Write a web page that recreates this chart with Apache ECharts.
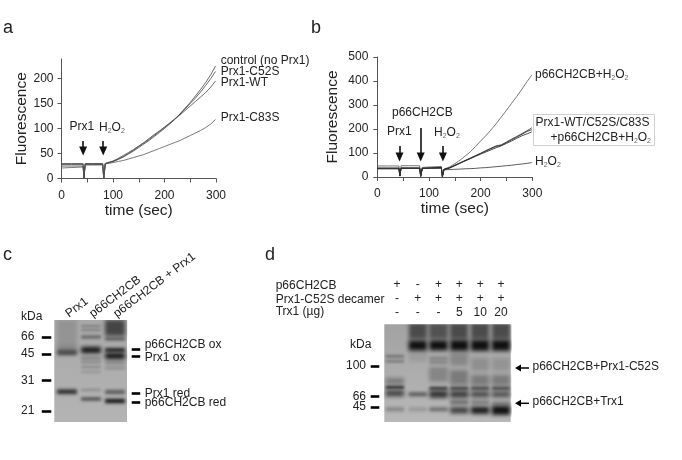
<!DOCTYPE html>
<html>
<head>
<meta charset="utf-8">
<title>Fluorescence and gels</title>
<script src="https://cdn.jsdelivr.net/npm/echarts@6/dist/echarts.min.js"></script>
<style>
html, body { margin: 0; padding: 0; background: #fff; }
#main { width: 682px; height: 460px; }
</style>
</head>
<body>
<div id="main"></div>
<script>
// panel a: fluorescence vs time
var timeA = [0, 20, 42, 43.5, 46, 60, 80, 82, 85, 90, 100, 110, 120, 130, 140, 150, 160, 170, 180, 190, 200, 210, 220, 230, 240, 250, 260, 270, 280, 290, 299];
var controlA = [30, 30, 30, 1, 30, 30, 30, 1, 30, 31, 34, 38, 43, 49, 55, 62, 69, 76, 84, 92, 100, 109, 118, 129, 141, 152, 165, 178, 192, 208, 225];
var c52sA = [28, 28, 28, 1, 29, 29, 29, 1, 30, 31, 34, 39, 44, 50, 57, 64, 71, 78, 86, 94, 102, 110, 119, 129, 139, 150, 161, 173, 186, 200, 214];
var wtA = [25, 25, 25, 1, 28, 28, 28, 1, 30, 32, 35, 40, 46, 52, 58, 65, 72, 80, 88, 95, 103, 111, 119, 127, 136, 145, 154, 163, 172, 183, 195];
var c83sA = [21, 22, 23, 1, 27, 27, 27, 1, 29, 30, 32, 34, 36, 39, 42, 45, 48, 52, 56, 60, 64, 68, 72, 76, 81, 86, 91, 96, 102, 109, 118];

// panel b: fluorescence vs time
var timeB = [0, 20, 42, 43.5, 46, 60, 82, 84, 87, 105, 124, 126, 129, 140, 150, 160, 170, 180, 190, 200, 210, 220, 230, 240, 250, 260, 270, 280, 290, 299];
var p66B = [46, 46, 46, 4, 47, 47, 47, 3, 40, 42, 44, 2, 33, 42, 55, 70, 87, 105, 127, 150, 172, 196, 222, 250, 278, 307, 336, 366, 398, 425];
var wtB = [38, 38, 38, 4, 38, 38, 38, 3, 37, 38, 40, 2, 32, 39, 49, 59, 69, 79, 89, 99, 110, 120, 130, 134, 146, 158, 169, 181, 193, 205];
var c52sB = [36, 36, 36, 4, 37, 37, 37, 3, 36, 38, 39, 2, 31, 38, 48, 58, 68, 78, 88, 98, 108, 118, 127, 132, 143, 155, 166, 178, 190, 197];
var c83sB = [34, 34, 34, 4, 36, 36, 36, 3, 35, 37, 38, 2, 30, 37, 47, 57, 67, 76, 86, 95, 104, 113, 122, 130, 140, 150, 161, 172, 180, 188];
var h2o2B = [35, 35, 35, 4, 36, 36, 36, 3, 36, 36, 36, 2, 30, 31, 32, 33, 34, 35, 36, 38, 39, 41, 43, 45, 47, 49, 52, 54, 57, 60];

// gel c: [lane, migration, spread, intensity]
var lanesC = ['Prx1', 'p66CH2CB', 'p66CH2CB + Prx1'];
var markersC = [17, 34, 60.7, 91];
var markerLabelsC = ['66', '45', '31', '21'];
var bandTicksC = [29.3, 36, 73, 82.7];
var bandLabelPosC = [25, 37.5, 73.5, 83];
var bandLabelsC = ['p66CH2CB ox', 'Prx1 ox', 'Prx1 red', 'p66CH2CB red'];
var bandsC = [
  [1, 12, 24, 0.14], [1, 29, 7, 0.25], [1, 32.7, 4, 0.6], [1, 71.7, 3.5, 0.85],
  [2, 6, 1, 0.3], [2, 10, 1, 0.3], [2, 17, 2, 0.5], [2, 30, 5, 1],
  [2, 38, 1.5, 0.3], [2, 42, 1.5, 0.25], [2, 47, 1.5, 0.22], [2, 52, 1.5, 0.15],
  [2, 70, 1.5, 0.22], [2, 79, 2.2, 0.65],
  [3, 8, 15, 0.65], [3, 19, 2, 0.55], [3, 30, 3, 0.9], [3, 36, 5, 1],
  [3, 43, 2, 0.25], [3, 48, 2, 0.2], [3, 72, 3, 0.55], [3, 81, 3.2, 1]
];

// gel d: [lane, migration, spread, intensity]
var rowNamesD = ['p66CH2CB', 'Prx1-C52S decamer', 'Trx1 (µg)'];
var rowP66 = ['+', '-', '+', '+', '+', '+'];
var rowPrx = ['-', '+', '+', '+', '+', '+'];
var rowTrx = ['-', '-', '-', '5', '10', '20'];
var markersD = [41.7, 72, 82.7];
var markerLabelsD = ['100', '66', '45'];
var bandsD = [
  [0.9, 32, 1.5, 0.4], [0.9, 37, 1.5, 0.35], [0.9, 57, 6, 0.32], [0.9, 63, 1.5, 0.95], [0.9, 69, 5, 0.7], [0.9, 85, 3, 0.3],
  [2, 7, 15, 0.6], [2, 21, 9, 1], [2, 30, 14, 0.08], [2, 70, 3, 0.55], [2, 85, 3, 0.18],
  [3, 7, 15, 0.55], [3, 21, 9, 1], [3, 34, 2, 0.28], [3, 38, 2, 0.28], [3, 50, 14, 0.25], [3, 64, 2, 0.8], [3, 70, 6, 0.8], [3, 85, 3, 0.45],
  [4, 7, 15, 0.6], [4, 21, 10, 1], [4, 35, 12, 0.22], [4, 53, 14, 0.32], [4, 64, 2, 0.75], [4, 70, 6, 0.72], [4, 78, 3, 0.45], [4, 86, 5, 0.75],
  [5, 7, 15, 0.6], [5, 21, 10, 1], [5, 40, 12, 0.18], [5, 56, 10, 0.32], [5, 64, 2, 0.7], [5, 70, 5, 0.65], [5, 78, 3, 0.35], [5, 86, 6, 0.95],
  [6, 7, 15, 0.6], [6, 21, 10, 1], [6, 40, 12, 0.15], [6, 56, 10, 0.32], [6, 64, 2, 0.7], [6, 70, 5, 0.6], [6, 79, 3, 0.3], [6, 86, 8, 1]
];

var FONT = '"Liberation Sans", Arial, sans-serif';
var INK = '#222';
var AXIS = '#555';

function zip(t, v) {
  return t.map(function (x, i) { return [x, v[i]]; });
}

function curve(name, t, v, ax, color, extra) {
  var s = {
    name: name, type: 'line', xAxisIndex: ax, yAxisIndex: ax,
    data: zip(t, v), showSymbol: false, symbol: 'none', silent: true,
    lineStyle: { color: color, width: 0.8 }
  };
  if (extra) s.markLine = extra;
  return s;
}

function arrows(list) {
  return {
    silent: true, symbol: ['none', 'triangle'], symbolSize: [8, 9], animation: false,
    label: { show: false },
    lineStyle: { color: '#111', width: 1.6, type: 'solid' },
    data: list.map(function (a) {
      return [{ coord: [a[0], a[1]] }, { coord: [a[0], a[2]] }];
    })
  };
}

function xAxisPlot(grid) {
  return {
    gridIndex: grid, type: 'value', min: 0, max: 300, name: 'time (sec)',
    nameLocation: 'middle', nameGap: 24,
    nameTextStyle: { fontFamily: FONT, fontSize: 15.5, color: INK },
    splitLine: { show: false },
    axisLine: { lineStyle: { color: AXIS, width: 1 } },
    axisTick: { length: 4, lineStyle: { color: AXIS }, customValues: [0, 50, 100, 150, 200, 250, 300] },
    axisLabel: { fontFamily: FONT, fontSize: 12, color: INK, margin: 11, customValues: [0, 100, 200, 300] }
  };
}

function yAxisPlot(grid, max, ticks, gap, margin) {
  return {
    gridIndex: grid, type: 'value', min: 0, max: max, name: 'Fluorescence',
    nameLocation: 'middle', nameGap: gap, nameRotate: 90,
    nameTextStyle: { fontFamily: FONT, fontSize: 15.5, color: INK },
    splitLine: { show: false },
    axisLine: { show: true, lineStyle: { color: AXIS, width: 1 } },
    axisTick: { show: true, length: 4, lineStyle: { color: AXIS }, customValues: ticks },
    axisLabel: { fontFamily: FONT, fontSize: 12, color: INK, margin: margin, customValues: ticks }
  };
}

function gelTopAxis(grid, min, max, labelOpts) {
  return {
    gridIndex: grid, type: 'value', position: 'top', min: min, max: max,
    splitLine: { show: false }, axisLine: { show: false }, axisTick: { show: false },
    axisLabel: labelOpts
  };
}

function gelSideAxis(grid, h, pos, ticks, labelPos, labels, offset, tickLen, margin) {
  return {
    gridIndex: grid, type: 'value', inverse: true, min: 0, max: h, position: pos, offset: offset,
    splitLine: { show: false }, axisLine: { show: false },
    axisTick: { show: true, length: tickLen, lineStyle: { color: '#000', width: 2.6 }, customValues: ticks },
    axisLabel: {
      fontFamily: FONT, fontSize: 12, color: INK, margin: margin,
      // empty last label, otherwise echarts drops the second last one when two sit close
      customValues: labelPos.concat([h]),
      formatter: function (v) { return labels[labelPos.indexOf(v)] || ''; }
    }
  };
}

// each band is only the blurred shadow of a rect parked off to the side
function bandSeries(grid, yIndex, bands, laneWidth, name) {
  return {
    name: name, type: 'custom', xAxisIndex: grid, yAxisIndex: yIndex, clip: true, silent: true,
    data: bands,
    renderItem: function (params, api) {
      var p = api.coord([api.value(0), api.value(1)]);
      var s = api.size([laneWidth, api.value(2)]);
      var h = s[1] + 1;
      return {
        type: 'rect',
        shape: { x: p[0] - s[0] / 2 - 1000, y: p[1] - h / 2, width: s[0], height: h },
        style: {
          fill: '#000', shadowOffsetX: 1000,
          shadowBlur: Math.min(2.5 + s[1] * 0.3, 4),
          shadowColor: 'rgba(15,15,15,' + api.value(3) + ')'
        }
      };
    }
  };
}

function txt(x, y, text, size, align) {
  return {
    type: 'text', x: x, y: y, silent: true,
    style: {
      text: text, fontFamily: FONT, fontSize: size || 12, fill: INK,
      align: align || 'left', verticalAlign: 'middle',
      rich: { s: { fontSize: 7, fill: '#666', verticalAlign: 'bottom', fontFamily: FONT, padding: [6, 0, 0, 0] } }
    }
  };
}

function sideArrow(x1, x2, y) {
  return {
    type: 'group', silent: true,
    children: [
      { type: 'line', shape: { x1: x1 + 5, y1: y, x2: x2, y2: y }, style: { stroke: '#000', lineWidth: 1.5 } },
      { type: 'polygon', shape: { points: [[x1, y], [x1 + 6, y - 3.5], [x1 + 6, y + 3.5]] }, style: { fill: '#000' } }
    ]
  };
}

var H2O2 = 'H{s|2}O{s|2}';

var chart = echarts.init(document.getElementById('main'));

var option = {
  animation: false,
  backgroundColor: '#fff',
  grid: [
    { left: 61.5, top: 59, width: 154.5, height: 119.5 },
    { left: 377.3, top: 57, width: 155, height: 120 },
    {
      left: 54.3, top: 320, width: 72.7, height: 102, show: true, borderWidth: 0,
      backgroundColor: new echarts.graphic.LinearGradient(0, 0, 0, 1, [
        { offset: 0, color: '#a8a8a8' }, { offset: 1, color: '#b4b4b4' }
      ])
    },
    {
      left: 384.3, top: 324.3, width: 126.4, height: 97.7, show: true, borderWidth: 0,
      backgroundColor: new echarts.graphic.LinearGradient(0, 0, 0, 1, [
        { offset: 0, color: '#a2a2a2' }, { offset: 1, color: '#b8b8b8' }
      ])
    }
  ],
  xAxis: [
    xAxisPlot(0),
    xAxisPlot(1),
    gelTopAxis(2, 0.47, 3.5, {
      fontFamily: FONT, fontSize: 12, color: INK, rotate: 37, margin: 5, customValues: [1, 2, 3],
      formatter: function (v) { return lanesC[v - 1]; }
    }),
    gelTopAxis(3, 0.39, 6.47, {
      fontFamily: FONT, fontSize: 12, color: INK, margin: 5, lineHeight: 14, align: 'center',
      customValues: [1, 2, 3, 4, 5, 6],
      formatter: function (v) {
        return [rowP66[v - 1], rowPrx[v - 1], rowTrx[v - 1]].join('\n');
      }
    })
  ],
  yAxis: [
    yAxisPlot(0, 239, [0, 50, 100, 150, 200], 32, 8),
    yAxisPlot(1, 500, [0, 100, 200, 300, 400, 500], 37, 9),
    gelSideAxis(2, 102, 'left', markersC, markersC, markerLabelsC, 3, 9.5, 17),
    gelSideAxis(2, 102, 'right', bandTicksC, bandLabelPosC, bandLabelsC, 4.7, 8.5, 13),
    gelSideAxis(3, 97.7, 'left', markersD, markersD, markerLabelsD, 5, 8.6, 13.3)
  ],
  series: [
    curve('control (no Prx1)', timeA, controlA, 0, '#444', arrows([[42, 75, 55], [81, 75, 55]])),
    curve('Prx1-C52S', timeA, c52sA, 0, '#444'),
    curve('Prx1-WT', timeA, wtA, 0, '#444'),
    curve('Prx1-C83S', timeA, c83sA, 0, '#555'),
    curve('p66CH2CB+H2O2', timeB, p66B, 1, '#555', arrows([[43, 129, 83], [84, 204, 83], [127, 129, 83]])),
    curve('Prx1-WT', timeB, wtB, 1, '#333'),
    curve('Prx1-C52S', timeB, c52sB, 1, '#222'),
    curve('Prx1-C83S', timeB, c83sB, 1, '#222'),
    curve('H2O2', timeB, h2o2B, 1, '#333'),
    bandSeries(2, 2, bandsC, 0.82, 'gel c'),
    bandSeries(3, 4, bandsD, 0.88, 'gel d')
  ],
  graphic: [
    txt(3, 28, 'a', 18), txt(311, 28, 'b', 18), txt(3, 255, 'c', 18), txt(265, 255, 'd', 18),
    // panel a labels
    txt(220.7, 60.5, 'control (no Prx1)', 12),
    txt(220.7, 72, 'Prx1-C52S', 12),
    txt(220.7, 82.7, 'Prx1-WT', 12),
    txt(220.7, 117.7, 'Prx1-C83S', 12),
    txt(69.5, 127, 'Prx1', 12),
    txt(99, 128, H2O2, 12),
    // panel b labels
    txt(535, 75, 'p66CH2CB+' + H2O2, 12),
    {
      type: 'rect', silent: true, shape: { x: 533.5, y: 114.5, width: 121, height: 31 },
      style: { fill: 'none', stroke: '#d0d0d0', lineWidth: 1 }
    },
    txt(535.5, 123, 'Prx1-WT/C52S/C83S', 12),
    txt(651, 138, '+p66CH2CB+' + H2O2, 12, 'right'),
    txt(535, 162, H2O2, 12),
    txt(387, 132, 'Prx1', 12),
    txt(392, 113, 'p66CH2CB', 12),
    txt(434, 133, H2O2, 12),
    // gel labels
    txt(21, 317, 'kDa', 12),
    txt(350, 345, 'kDa', 12),
    txt(275.7, 285.5, rowNamesD[0], 12),
    txt(275.7, 299.3, rowNamesD[1], 12),
    txt(275.7, 312, rowNamesD[2], 12),
    sideArrow(515, 529, 368),
    sideArrow(515, 529, 403.3),
    txt(532.5, 366.7, 'p66CH2CB+Prx1-C52S', 12),
    txt(532.5, 401.7, 'p66CH2CB+Trx1', 12)
  ]
};

chart.setOption(option);
</script>
</body>
</html>
